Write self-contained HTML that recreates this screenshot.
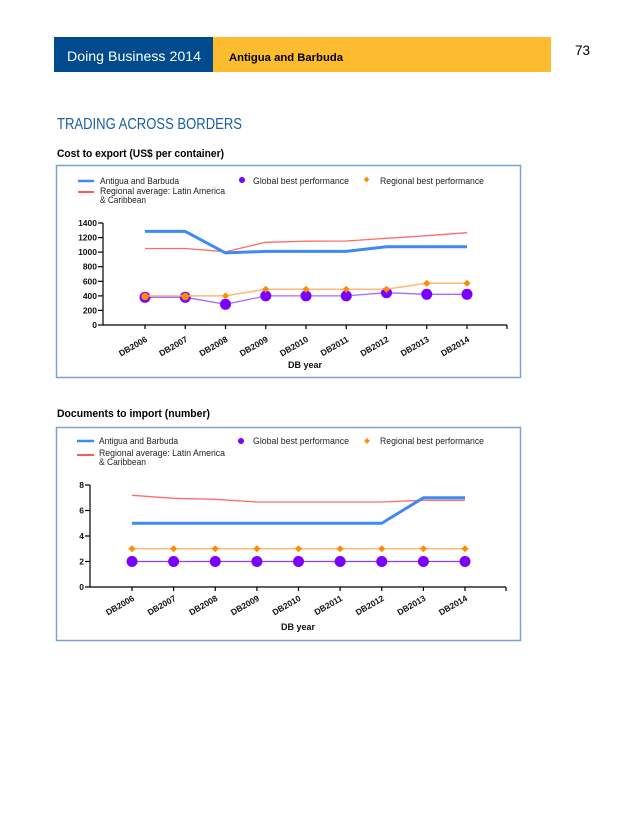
<!DOCTYPE html>
<html><head><meta charset="utf-8"><style>
html,body{margin:0;padding:0;background:#fff;}
svg{display:block;}
text{font-family:"Liberation Sans",Arial,sans-serif;}
</style></head><body>
<svg width="640" height="828" viewBox="0 0 640 828" xmlns="http://www.w3.org/2000/svg">
<!-- Header -->
<rect x="54" y="37" width="159" height="35" fill="#004B8D"/>
<rect x="213" y="37" width="338" height="35" fill="#FDBB30"/>
<text x="67" y="61" font-size="14" fill="#fff" textLength="134" lengthAdjust="spacingAndGlyphs">Doing Business 2014</text>
<text x="229" y="61" font-size="11" font-weight="bold" fill="#000" textLength="114" lengthAdjust="spacingAndGlyphs">Antigua and Barbuda</text>
<text x="575" y="55" font-size="14" fill="#000" textLength="15" lengthAdjust="spacingAndGlyphs">73</text>

<text x="57" y="129" font-size="16" fill="#1A5DA6" textLength="185" lengthAdjust="spacingAndGlyphs">TRADING ACROSS BORDERS</text>
<text x="57" y="157" font-size="11" font-weight="bold" fill="#000" textLength="167" lengthAdjust="spacingAndGlyphs">Cost to export (US$ per container)</text>

<!-- Chart 1 -->
<rect x="56.5" y="165.5" width="464" height="212" fill="#fff" stroke="#7BA3D0" stroke-width="1.5"/>
<g font-size="9" fill="#222">
<line x1="78" y1="181" x2="94" y2="181" stroke="#3D8AF7" stroke-width="2.5"/>
<text x="100" y="184" textLength="79" lengthAdjust="spacingAndGlyphs">Antigua and Barbuda</text>
<line x1="78" y1="192" x2="94" y2="192" stroke="#FF2020" stroke-width="1.5"/>
<text x="100" y="194" textLength="125" lengthAdjust="spacingAndGlyphs">Regional average: Latin America</text>
<text x="100" y="203" textLength="46" lengthAdjust="spacingAndGlyphs">&amp; Caribbean</text>
<circle cx="242" cy="180" r="3" fill="#7A00FF"/>
<text x="253" y="184" textLength="96" lengthAdjust="spacingAndGlyphs">Global best performance</text>
<rect x="364.5" y="177.5" width="4" height="4" fill="#FF8C00" transform="rotate(45 366.5 179.5)"/>
<text x="380" y="184" textLength="104" lengthAdjust="spacingAndGlyphs">Regional best performance</text>
</g>
<!-- axes -->
<g stroke="#000" stroke-width="1.2">
<line x1="103" y1="223" x2="103" y2="325"/>
<line x1="103" y1="325" x2="507" y2="325"/>
<line x1="98" y1="223" x2="103" y2="223"/>
<line x1="98" y1="237.6" x2="103" y2="237.6"/>
<line x1="98" y1="252.1" x2="103" y2="252.1"/>
<line x1="98" y1="266.7" x2="103" y2="266.7"/>
<line x1="98" y1="281.3" x2="103" y2="281.3"/>
<line x1="98" y1="295.9" x2="103" y2="295.9"/>
<line x1="98" y1="310.4" x2="103" y2="310.4"/>
<line x1="98" y1="325" x2="103" y2="325"/>
<line x1="145" y1="325" x2="145" y2="329"/>
<line x1="185.25" y1="325" x2="185.25" y2="329"/>
<line x1="225.5" y1="325" x2="225.5" y2="329"/>
<line x1="265.75" y1="325" x2="265.75" y2="329"/>
<line x1="306" y1="325" x2="306" y2="329"/>
<line x1="346.25" y1="325" x2="346.25" y2="329"/>
<line x1="386.5" y1="325" x2="386.5" y2="329"/>
<line x1="426.75" y1="325" x2="426.75" y2="329"/>
<line x1="467" y1="325" x2="467" y2="329"/>
<line x1="507" y1="325" x2="507" y2="329"/>
</g>
<g font-size="8.5" font-weight="bold" text-anchor="end" fill="#111">
<text x="97" y="226">1400</text>
<text x="97" y="240.6">1200</text>
<text x="97" y="255.1">1000</text>
<text x="97" y="269.7">800</text>
<text x="97" y="284.3">600</text>
<text x="97" y="298.9">400</text>
<text x="97" y="313.4">200</text>
<text x="97" y="328">0</text>
</g>
<g font-size="8.5" font-weight="bold" text-anchor="end" fill="#111">
<text x="148" y="341" transform="rotate(-30 148 341)">DB2006</text>
<text x="188.25" y="341" transform="rotate(-30 188.25 341)">DB2007</text>
<text x="228.5" y="341" transform="rotate(-30 228.5 341)">DB2008</text>
<text x="268.75" y="341" transform="rotate(-30 268.75 341)">DB2009</text>
<text x="309" y="341" transform="rotate(-30 309 341)">DB2010</text>
<text x="349.25" y="341" transform="rotate(-30 349.25 341)">DB2011</text>
<text x="389.5" y="341" transform="rotate(-30 389.5 341)">DB2012</text>
<text x="429.75" y="341" transform="rotate(-30 429.75 341)">DB2013</text>
<text x="470" y="341" transform="rotate(-30 470 341)">DB2014</text>
</g>
<text x="305" y="368" font-size="9" font-weight="bold" text-anchor="middle" fill="#111">DB year</text>
<!-- series chart 1 -->
<polyline fill="none" stroke="#FF6A6A" stroke-width="1.3" points="145,248.5 185.25,248.5 225.5,251.7 265.75,242.3 306,241.2 346.25,241 386.5,238.3 426.75,235.7 467,232.7"/>
<polyline fill="none" stroke="#3D8AF7" stroke-width="3" stroke-linejoin="round" points="145,231.4 185.25,231.4 225.5,252.9 265.75,251.4 306,251.4 346.25,251.4 386.5,246.7 426.75,246.7 467,246.7"/>
<polyline fill="none" stroke="#A56BFF" stroke-width="1.3" points="145,297.3 185.25,297.3 225.5,304.3 265.75,295.9 306,295.9 346.25,295.9 386.5,292.7 426.75,294.3 467,294.3"/>
<g fill="#7A00FF">
<circle cx="145" cy="297.3" r="5.5"/><circle cx="185.25" cy="297.3" r="5.5"/><circle cx="225.5" cy="304.3" r="5.5"/><circle cx="265.75" cy="295.9" r="5.5"/><circle cx="306" cy="295.9" r="5.5"/><circle cx="346.25" cy="295.9" r="5.5"/><circle cx="386.5" cy="292.7" r="5.5"/><circle cx="426.75" cy="294.3" r="5.5"/><circle cx="467" cy="294.3" r="5.5"/>
</g>
<polyline fill="none" stroke="#FFB877" stroke-width="1.5" points="145,295.9 185.25,295.9 225.5,295.9 265.75,289.3 306,289.3 346.25,289.3 386.5,289.3 426.75,283.3 467,283.3"/>
<g fill="#FF8C00">
<circle cx="145" cy="296.5" r="3.8"/><circle cx="185.25" cy="296.5" r="3.8"/>
<rect x="223" y="293.4" width="5" height="5" transform="rotate(45 225.5 295.9)"/>
<rect x="263.25" y="286.8" width="5" height="5" transform="rotate(45 265.75 289.3)"/>
<rect x="303.5" y="286.8" width="5" height="5" transform="rotate(45 306 289.3)"/>
<rect x="343.75" y="286.8" width="5" height="5" transform="rotate(45 346.25 289.3)"/>
<rect x="384" y="286.8" width="5" height="5" transform="rotate(45 386.5 289.3)"/>
<rect x="424.25" y="280.8" width="5" height="5" transform="rotate(45 426.75 283.3)"/>
<rect x="464.5" y="280.8" width="5" height="5" transform="rotate(45 467 283.3)"/>
</g>

<!-- Chart 2 -->
<text x="57" y="417" font-size="11" font-weight="bold" fill="#000" textLength="153" lengthAdjust="spacingAndGlyphs">Documents to import (number)</text>
<rect x="56.5" y="427.5" width="464" height="213" fill="#fff" stroke="#7BA3D0" stroke-width="1.5"/>
<g font-size="9" fill="#222">
<line x1="77" y1="441" x2="94" y2="441" stroke="#3D8AF7" stroke-width="2.5"/>
<text x="99" y="444" textLength="79" lengthAdjust="spacingAndGlyphs">Antigua and Barbuda</text>
<line x1="77" y1="455" x2="94" y2="455" stroke="#FF2020" stroke-width="1.5"/>
<text x="99" y="456" textLength="126" lengthAdjust="spacingAndGlyphs">Regional average: Latin America</text>
<text x="99" y="465" textLength="47" lengthAdjust="spacingAndGlyphs">&amp; Caribbean</text>
<circle cx="241" cy="441" r="3" fill="#7A00FF"/>
<text x="253" y="444" textLength="96" lengthAdjust="spacingAndGlyphs">Global best performance</text>
<rect x="365" y="439" width="4" height="4" fill="#FF8C00" transform="rotate(45 367 441)"/>
<text x="380" y="444" textLength="104" lengthAdjust="spacingAndGlyphs">Regional best performance</text>
</g>
<g stroke="#000" stroke-width="1.2">
<line x1="90" y1="485" x2="90" y2="587"/>
<line x1="90" y1="587" x2="506" y2="587"/>
<line x1="85" y1="485" x2="90" y2="485"/>
<line x1="85" y1="510.5" x2="90" y2="510.5"/>
<line x1="85" y1="536" x2="90" y2="536"/>
<line x1="85" y1="561.5" x2="90" y2="561.5"/>
<line x1="85" y1="587" x2="90" y2="587"/>
<line x1="132" y1="587" x2="132" y2="591"/>
<line x1="173.6" y1="587" x2="173.6" y2="591"/>
<line x1="215.25" y1="587" x2="215.25" y2="591"/>
<line x1="256.9" y1="587" x2="256.9" y2="591"/>
<line x1="298.5" y1="587" x2="298.5" y2="591"/>
<line x1="340.1" y1="587" x2="340.1" y2="591"/>
<line x1="381.75" y1="587" x2="381.75" y2="591"/>
<line x1="423.4" y1="587" x2="423.4" y2="591"/>
<line x1="465" y1="587" x2="465" y2="591"/>
<line x1="506" y1="587" x2="506" y2="591"/>
</g>
<g font-size="8.5" font-weight="bold" text-anchor="end" fill="#111">
<text x="84" y="488">8</text>
<text x="84" y="513.5">6</text>
<text x="84" y="539">4</text>
<text x="84" y="564.5">2</text>
<text x="84" y="590">0</text>
</g>
<g font-size="8.5" font-weight="bold" text-anchor="end" fill="#111">
<text x="135" y="600" transform="rotate(-30 135 600)">DB2006</text>
<text x="176.6" y="600" transform="rotate(-30 176.6 600)">DB2007</text>
<text x="218.25" y="600" transform="rotate(-30 218.25 600)">DB2008</text>
<text x="259.9" y="600" transform="rotate(-30 259.9 600)">DB2009</text>
<text x="301.5" y="600" transform="rotate(-30 301.5 600)">DB2010</text>
<text x="343.1" y="600" transform="rotate(-30 343.1 600)">DB2011</text>
<text x="384.75" y="600" transform="rotate(-30 384.75 600)">DB2012</text>
<text x="426.4" y="600" transform="rotate(-30 426.4 600)">DB2013</text>
<text x="468" y="600" transform="rotate(-30 468 600)">DB2014</text>
</g>
<text x="298" y="630" font-size="9" font-weight="bold" text-anchor="middle" fill="#111">DB year</text>
<polyline fill="none" stroke="#FF6A6A" stroke-width="1.3" points="132,495.3 173.6,498.3 215.25,499.3 256.9,502 298.5,502 340.1,502 381.75,502 423.4,500.3 465,500.3"/>
<polyline fill="none" stroke="#3D8AF7" stroke-width="3" stroke-linejoin="round" points="132,523.25 173.6,523.25 215.25,523.25 256.9,523.25 298.5,523.25 340.1,523.25 381.75,523.25 423.4,497.75 465,497.75"/>
<line x1="132" y1="548.75" x2="465" y2="548.75" stroke="#FFB877" stroke-width="1.5"/>
<g fill="#FF8C00">
<rect x="129.5" y="546.25" width="5" height="5" transform="rotate(45 132 548.75)"/>
<rect x="171.1" y="546.25" width="5" height="5" transform="rotate(45 173.6 548.75)"/>
<rect x="212.75" y="546.25" width="5" height="5" transform="rotate(45 215.25 548.75)"/>
<rect x="254.4" y="546.25" width="5" height="5" transform="rotate(45 256.9 548.75)"/>
<rect x="296" y="546.25" width="5" height="5" transform="rotate(45 298.5 548.75)"/>
<rect x="337.6" y="546.25" width="5" height="5" transform="rotate(45 340.1 548.75)"/>
<rect x="379.25" y="546.25" width="5" height="5" transform="rotate(45 381.75 548.75)"/>
<rect x="420.9" y="546.25" width="5" height="5" transform="rotate(45 423.4 548.75)"/>
<rect x="462.5" y="546.25" width="5" height="5" transform="rotate(45 465 548.75)"/>
</g>
<line x1="132" y1="561.5" x2="465" y2="561.5" stroke="#8A3CFF" stroke-width="1.3"/>
<g fill="#7A00FF">
<circle cx="132" cy="561.5" r="5.5"/><circle cx="173.6" cy="561.5" r="5.5"/><circle cx="215.25" cy="561.5" r="5.5"/><circle cx="256.9" cy="561.5" r="5.5"/><circle cx="298.5" cy="561.5" r="5.5"/><circle cx="340.1" cy="561.5" r="5.5"/><circle cx="381.75" cy="561.5" r="5.5"/><circle cx="423.4" cy="561.5" r="5.5"/><circle cx="465" cy="561.5" r="5.5"/>
</g>
</svg>
</body></html>
